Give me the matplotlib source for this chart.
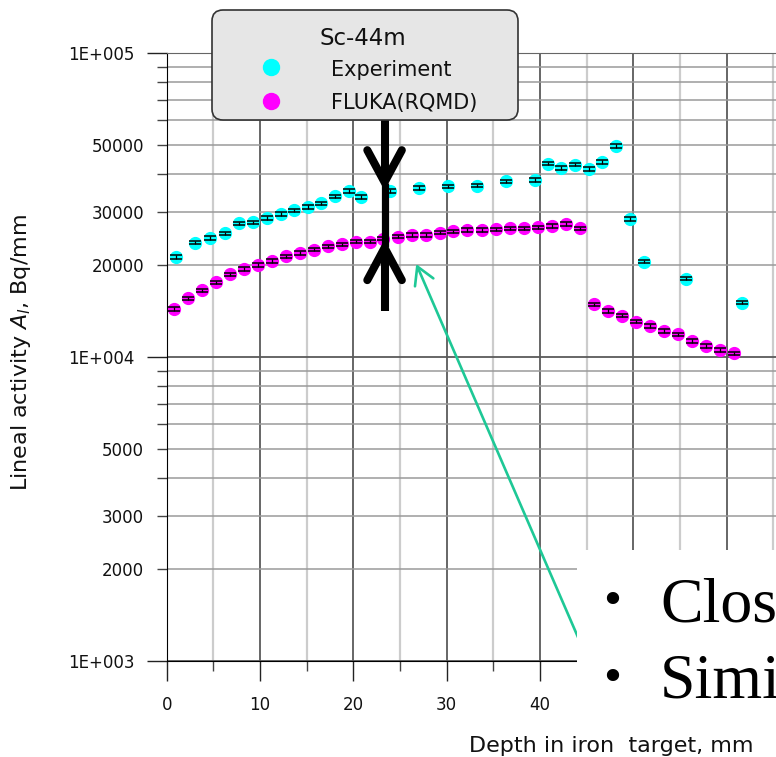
import matplotlib.pyplot as plt
from matplotlib.patches import FancyBboxPatch, Rectangle
from matplotlib.lines import Line2D
from matplotlib.ticker import FixedLocator, FixedFormatter

plt.rcParams['font.family'] = ['DejaVu Sans']

# Sc-44m lineal activity along the iron target
exp_depth = [1.0, 3.0, 4.6, 6.2, 7.7, 9.2, 10.7, 12.2, 13.6, 15.1, 16.5, 18.0, 19.5, 20.8,
             23.9, 27.0, 30.1, 33.3, 36.4, 39.5, 40.9, 42.3, 43.8, 45.3, 46.7, 48.2,
             49.7, 51.2, 55.7, 61.7]
exp_activity = [21300, 23800, 24600, 25500, 27500, 27700, 28700, 29500, 30400, 31100,
                32000, 33800, 35200, 33600, 35200, 36000, 36400, 36600, 37800, 38200,
                43300, 41900, 42900, 41600, 43800, 49400, 28400, 20600, 18100, 15100]

fluka_depth = [0.8, 2.3, 3.8, 5.3, 6.8, 8.3, 9.8, 11.3, 12.8, 14.3, 15.8, 17.3, 18.8, 20.3,
               21.8, 23.2, 24.8, 26.3, 27.8, 29.3, 30.7, 32.2, 33.8, 35.3, 36.8, 38.3,
               39.8, 41.3, 42.8, 44.3, 45.8, 47.3, 48.8, 50.3, 51.8, 53.3, 54.8, 56.3,
               57.8, 59.3, 60.8]
fluka_activity = [14380, 15600, 16570, 17610, 18710, 19480, 20080, 20700, 21440, 21980,
                  22540, 23120, 23490, 23940, 23940, 24490, 24880, 25200, 25200, 25640,
                  25910, 26180, 26140, 26310, 26500, 26500, 26700, 26960, 27370, 26500,
                  14910, 14160, 13670, 13060, 12650, 12180, 11880, 11290, 10860, 10560,
                  10280]

ERR_REL = 0.013  # relative size of the error bars

x_major = [0, 10, 20, 30, 40, 50, 60]
x_minor = [5, 15, 25, 35, 45, 55, 65]
y_major = [1e3, 1e4, 1e5]
y_major_labels = ['1E+003', '1E+004', '1E+005']
y_minor = [2e3, 3e3, 4e3, 5e3, 6e3, 7e3, 8e3, 9e3,
           2e4, 3e4, 4e4, 5e4, 6e4, 7e4, 8e4, 9e4]
y_minor_labels = ['2000', '3000', '', '5000', '', '', '', '',
                  '20000', '30000', '', '50000', '', '', '', '']

W, H = 776, 757
fig = plt.figure(figsize=(W / 100, H / 100), dpi=100)
ax = fig.add_axes([166.7 / W, 1 - 661 / H, 1 - 166.7 / W, (661 - 53) / H])

ax.set_yscale('log')
ax.set_xlim(0, 65.3)
ax.set_ylim(1e3, 1e5)

ax.xaxis.set_major_locator(FixedLocator(x_major))
ax.xaxis.set_minor_locator(FixedLocator(x_minor))
ax.set_xticklabels([str(v) for v in x_major])
ax.yaxis.set_major_locator(FixedLocator(y_major))
ax.yaxis.set_major_formatter(FixedFormatter(y_major_labels))
ax.yaxis.set_minor_locator(FixedLocator(y_minor))
ax.yaxis.set_minor_formatter(FixedFormatter(y_minor_labels))

ax.tick_params(which='major', length=14.4, width=1, color='#222222', labelsize=12,
               labelcolor='#111111')
ax.tick_params(which='minor', length=7.2, width=1, color='#444444', labelsize=12,
               labelcolor='#111111')
ax.tick_params(axis='y', which='both', pad=9)
ax.tick_params(axis='x', which='both', pad=11)

ax.xaxis.grid(True, which='major', color='#5a5a5a', lw=1.3)
ax.xaxis.grid(True, which='minor', color='#cccccc', lw=1.6)
ax.yaxis.grid(True, which='major', color='#5a5a5a', lw=1.3)
ax.yaxis.grid(True, which='minor', color='#9a9a9a', lw=1.1)
ax.set_axisbelow(True)
ax.spines['right'].set_visible(False)
ax.spines['top'].set_color('#666666')

ax.plot(exp_depth, exp_activity, 'o', color='#00ffff', ms=8.5, zorder=3)
ax.plot(fluka_depth, fluka_activity, 'o', color='#ff00ff', ms=8.5, zorder=3)
ax.errorbar(exp_depth, exp_activity, yerr=[v * ERR_REL for v in exp_activity],
            fmt='none', ecolor='black', elinewidth=0.9, capsize=4.3, capthick=1.1, zorder=4)
ax.errorbar(fluka_depth, fluka_activity, yerr=[v * ERR_REL for v in fluka_activity],
            fmt='none', ecolor='black', elinewidth=0.9, capsize=4.3, capthick=1.1, zorder=4)

# black arrows marking the gap between experiment and calculation
ax.plot([23.35, 23.35], [62500, 38500], color='black', lw=5.8, solid_capstyle='butt', zorder=5)
ax.plot([21.5, 23.35, 25.2], [47900, 37600, 47900], color='black', lw=5.8,
        solid_capstyle='round', solid_joinstyle='miter', zorder=5)
ax.plot([23.35, 23.35], [37300, 23000], color='black', lw=5.2, solid_capstyle='butt', zorder=5)
ax.plot([23.35, 23.35], [22300, 14150], color='black', lw=5.8, solid_capstyle='butt', zorder=5)
ax.plot([21.5, 23.35, 25.2], [17900, 22850, 17900], color='black', lw=5.8,
        solid_capstyle='round', solid_joinstyle='miter', zorder=5)

ax.annotate('', xy=(26.74, 20230), xytext=(44.6, 1100),
            arrowprops=dict(arrowstyle='->, head_length=1.25, head_width=0.72',
                            mutation_scale=10, color='#1ec896', lw=1.9,
                            shrinkA=0, shrinkB=0), zorder=5)

ax.set_ylabel(r'Lineal activity $A_l$, Bq/mm', fontsize=16, color='#111111')
ax.yaxis.set_label_coords(-0.2194, 0.507)

# legend box
box = FancyBboxPatch((2.12, (H - 120) / 100), 3.06, 1.10,
                     boxstyle='round,pad=0,rounding_size=0.11',
                     transform=fig.dpi_scale_trans, facecolor='#e6e6e6',
                     edgecolor='#333333', lw=1.2, zorder=10)
fig.add_artist(box)
fig.text(363 / W, 1 - 45 / H, 'Sc-44m', fontsize=16.5, ha='center', va='baseline',
         color='#111111', zorder=11)
fig.add_artist(Line2D([271 / W], [1 - 67 / H], marker='o', color='#00ffff', ms=11.5,
                      transform=fig.transFigure, zorder=11))
fig.add_artist(Line2D([271 / W], [1 - 101 / H], marker='o', color='#ff00ff', ms=11.5,
                      transform=fig.transFigure, zorder=11))
fig.text(331 / W, 1 - 76 / H, 'Experiment', fontsize=15, ha='left', va='baseline',
         color='#111111', zorder=11)
fig.text(331 / W, 1 - 109 / H, 'FLUKA(RQMD)', fontsize=15, ha='left', va='baseline',
         color='#111111', zorder=11)

# overlapping slide text box
fig.add_artist(Rectangle((577 / W, 0), 1, (H - 550) / H, transform=fig.transFigure,
                         facecolor='white', edgecolor='none', zorder=20))
for yb, yc, txt in [(622, 603, 'Clos'), (698, 680, 'Simi')]:
    fig.text(612 / W, 1 - yc / H, '\u2022', fontsize=37, family='Liberation Serif',
             ha='center', va='center', zorder=21)
    fig.text(660 / W, 1 - yb / H, txt, fontsize=46, family='Liberation Serif',
             ha='left', va='baseline', zorder=21)

# x axis title sits on top of the slide box
fig.text(611 / W, 1 - 752 / H, 'Depth in iron  target, mm', fontsize=16,
         ha='center', va='baseline', color='#111111', zorder=22)

fig.savefig('out.png', dpi=100)
